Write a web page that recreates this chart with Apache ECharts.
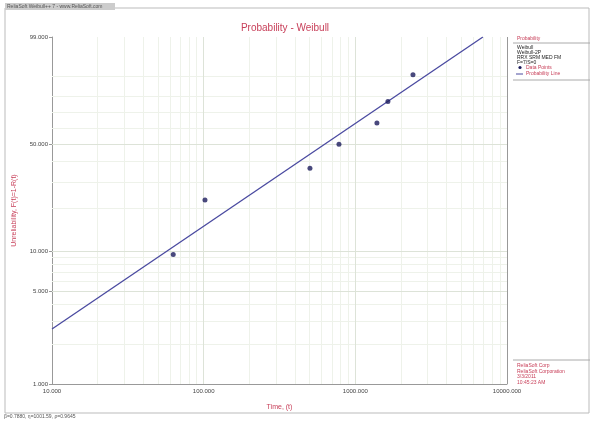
<!DOCTYPE html>
<html><head><meta charset="utf-8">
<script src="https://cdn.jsdelivr.net/npm/echarts@6/dist/echarts.min.js"></script>
<style>html,body{margin:0;padding:0;background:#fff}#c{width:593px;height:421px}</style>
</head><body><div id="c"></div>
<script>
// Data (failure times and median-rank unreliability, %)
const times = [63, 102, 502, 780, 1388, 1640, 2399];
const unrel = [9.43, 22.85, 36.41, 50.0, 63.59, 77.15, 90.57];
// Fitted probability line endpoints
const lineTimes = [10, 6935];
const lineUnrel = [2.62, 99.0];
// Axis ticks
const xTicks = [10, 100, 1000, 10000];
const yTicks = [1, 5, 10, 50, 99];
const xMinor = [20,30,40,50,60,70,80,90,200,300,400,500,600,700,800,900,2000,3000,4000,5000,6000,7000,8000,9000];
const yMinor = [2,3,4,6,7,8,9,20,30,40,60,70,80,90];
const panelLines = ['Weibull', 'Weibull-2P', 'RRX SRM MED FM', 'F=7/S=0'];

const wb = p => Math.log(-Math.log(1 - p / 100));
const RED = '#c8405a';

const panelText = panelLines.map((t, i) => ({type: 'text', x: 517, y: 45 + i * 5,
  style: {text: t, fontSize: 5, fill: '#222', fontFamily: 'Liberation Sans'}}));

const chart = echarts.init(document.getElementById('c'));
chart.setOption({
  animation: false,
  backgroundColor: '#fff',
  title: {text: 'Probability - Weibull', left: 280, top: 18, textAlign: 'center',
    textStyle: {color: RED, fontSize: 10, fontWeight: 'normal', fontFamily: 'Liberation Sans'}},
  grid: {left: 52, right: 86, top: 37, bottom: 37},
  xAxis: {type: 'log', logBase: 10, min: 10, max: 10000,
    name: 'Time, (t)', nameLocation: 'middle', nameGap: 20,
    nameTextStyle: {color: RED, fontSize: 7, fontFamily: 'Liberation Sans'},
    axisLine: {onZero: false, lineStyle: {color: '#999', width: 1}},
    axisTick: {show: false},
    axisLabel: {color: '#444', fontSize: 6, margin: 4, fontFamily: 'Liberation Sans',
      formatter: v => Number(v).toFixed(3)},
    splitLine: {show: false}},
  yAxis: {type: 'value', min: wb(1), max: wb(99),
    name: 'Unreliability, F(t)=1-R(t)', nameLocation: 'middle', nameGap: 34, nameRotate: 90,
    nameTextStyle: {color: RED, fontSize: 7, fontFamily: 'Liberation Sans'},
    axisLine: {show: true, onZero: false, lineStyle: {color: '#999', width: 1}},
    axisTick: {show: true, customValues: yTicks.map(wb), length: 3, lineStyle: {color: '#999'}},
    axisLabel: {customValues: yTicks.map(wb), color: '#444', fontSize: 6, margin: 4, fontFamily: 'Liberation Sans',
      formatter: v => {
        const p = (1 - Math.exp(-Math.exp(v))) * 100;
        return (Math.round(p)).toFixed(3);
      }},
    splitLine: {show: false}},
  series: [
    {type: 'line', data: [], z: 1, markLine: {silent: true, symbol: 'none', label: {show: false}, z: 1,
      lineStyle: {color: '#eef2ea', type: 'solid', width: 1},
      data: xMinor.map(v => ({xAxis: v})).concat(yMinor.map(v => ({yAxis: wb(v)})))}},
    {type: 'line', data: [], z: 1, markLine: {silent: true, symbol: 'none', label: {show: false}, z: 1,
      lineStyle: {color: '#dde3d8', type: 'solid', width: 1},
      data: [{xAxis: 100}, {xAxis: 1000}, {yAxis: wb(5)}, {yAxis: wb(10)}, {yAxis: wb(50)}]}},
    {type: 'line', data: [], z: 1, markLine: {silent: true, symbol: 'none', label: {show: false}, z: 1,
      lineStyle: {color: '#999', type: 'solid', width: 1},
      data: [{xAxis: 10000}, {yAxis: wb(99)}]}},
    {name: 'Probability Line', type: 'line', data: lineTimes.map((t, i) => [t, wb(lineUnrel[i])]),
      symbol: 'none', lineStyle: {color: '#4a4aa0', width: 1.3}, z: 5},
    {name: 'Data Points', type: 'scatter', data: times.map((t, i) => [t, wb(unrel[i])]),
      symbol: 'circle', symbolSize: 5, itemStyle: {color: '#1c1c5c'}, z: 6}
  ],
  graphic: [
    {type: 'rect', shape: {x: 5, y: 8, width: 584, height: 405}, style: {fill: 'none', stroke: '#bbb', lineWidth: 1}},
    {type: 'rect', shape: {x: 5, y: 3, width: 110, height: 7}, style: {fill: '#ccc'}},
    {type: 'text', x: 7, y: 4, style: {text: 'ReliaSoft Weibull++ 7 - www.ReliaSoft.com', fontSize: 5, fill: '#555', fontFamily: 'Liberation Sans'}},
    {type: 'line', shape: {x1: 513, y1: 43, x2: 590, y2: 43}, style: {stroke: '#aaa', lineWidth: 1}},
    {type: 'line', shape: {x1: 513, y1: 80, x2: 590, y2: 80}, style: {stroke: '#aaa', lineWidth: 1}},
    {type: 'line', shape: {x1: 513, y1: 360, x2: 590, y2: 360}, style: {stroke: '#aaa', lineWidth: 1}},
    {type: 'text', x: 517, y: 36, style: {text: 'Probability', fontSize: 5, fill: RED, fontFamily: 'Liberation Sans'}},
    ...panelText,
    {type: 'circle', shape: {cx: 520, cy: 67.5, r: 1.6}, style: {fill: '#1c1c5c'}},
    {type: 'text', x: 526, y: 65, style: {text: 'Data Points', fontSize: 5, fill: RED, fontFamily: 'Liberation Sans'}},
    {type: 'line', shape: {x1: 516, y1: 74, x2: 523, y2: 74}, style: {stroke: '#4a4aa0', lineWidth: 1}},
    {type: 'text', x: 526, y: 71.5, style: {text: 'Probability Line', fontSize: 5, fill: RED, fontFamily: 'Liberation Sans'}},
    {type: 'text', x: 517, y: 363, style: {text: 'ReliaSoft Corp\nReliaSoft Corporation\n3/3/2011\n10:45:23 AM', fontSize: 5, lineHeight: 5.5, fill: RED, fontFamily: 'Liberation Sans'}},
    {type: 'text', x: 4, y: 414, style: {text: 'β=0.7880, η=1001.59, ρ=0.9645', fontSize: 5, fill: '#555', fontFamily: 'Liberation Sans'}}
  ]
});
</script></body></html>
